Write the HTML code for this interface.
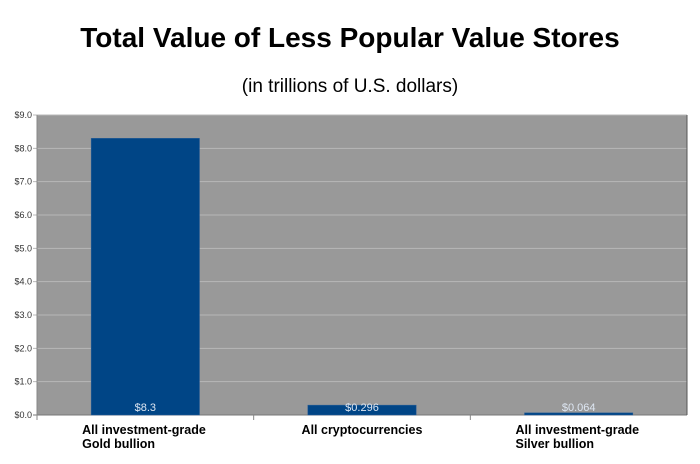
<!DOCTYPE html>
<html><head><meta charset="utf-8"><style>
body{margin:0;background:#fff;width:700px;height:459px;overflow:hidden;font-family:"Liberation Sans",sans-serif}
</style></head><body>
<svg width="700" height="459">
<text x="350" y="47" text-anchor="middle" font-size="28" font-weight="bold">Total Value of Less Popular Value Stores</text>
<text x="350" y="92" text-anchor="middle" font-size="19">(in trillions of U.S. dollars)</text>
<g id="plot"></g>
</svg>
<script>
const categories1=["All investment-grade","All cryptocurrencies","All investment-grade"];
const categories2=["Gold bullion","","Silver bullion"];
const values=[8.3,0.296,0.064];
const valueLabels=["$8.3","$0.296","$0.064"];
const ticks=[0,1,2,3,4,5,6,7,8,9];
const L=37,R=687,T=115,B=415,maxV=9;
const y=v=>B-(v/maxV)*(B-T);
const bw=(R-L)/categories1.length;
const g=document.getElementById('plot');
const NS='http://www.w3.org/2000/svg';
function mk(t,a){const e=document.createElementNS(NS,t);for(const k in a)e.setAttribute(k,a[k]);g.appendChild(e);return e;}
let bg=mk('rect',{x:L,y:T,width:R-L,height:B-T,fill:'#999999'});


ticks.forEach(t=>{
 const ln=mk('line',{x1:L-4,x2:R,y1:y(t),y2:y(t),stroke:t==0?'#777':'#b8b8b8','stroke-width':1});
 
 
 const tx=mk('text',{x:L-5,y:y(t)+3,'text-anchor':'end','font-size':9,fill:'#333'});
 tx.textContent='$'+t.toFixed(1);
 
 
});
let ax=mk('line',{x1:L,x2:L,y1:T,y2:B+5,stroke:'#888'});


let rb=mk('line',{x1:R,x2:R,y1:T,y2:B,stroke:'#555'});


values.forEach((v,i)=>{
 const cx=L+bw*(i+0.5),w=bw/2;
 const r=mk('rect',{x:cx-w/2,y:y(v),width:w,height:B-y(v),fill:'#004586',stroke:'#2a5f99','stroke-width':0.5});
 
 
 const vl=mk('text',{x:cx,y:B-4,'text-anchor':'middle','font-size':11,fill:'#dde6f2'});
 vl.textContent=valueLabels[i];
 
 
 if(i>0){const tk=mk('line',{x1:L+bw*i,x2:L+bw*i,y1:B,y2:B+5,stroke:'#888'});
 
 }
 const tx=cx-w/2-9;
 const a=mk('text',{x:categories2[i]?tx:cx,y:434,'text-anchor':categories2[i]?'start':'middle','font-size':12.5,'font-weight':'bold'});
 a.textContent=categories1[i];
 
 
 if(categories2[i]){const b=mk('text',{x:tx,y:448,'font-size':12.5,'font-weight':'bold'});
 b.textContent=categories2[i];
 
 }
});
</script>
</body></html>
